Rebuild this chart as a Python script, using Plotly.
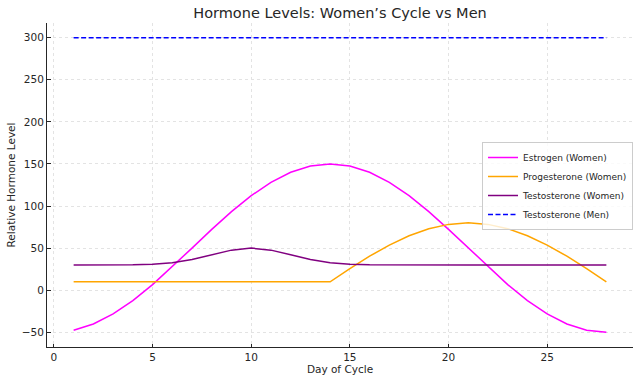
import plotly.graph_objects as go

days = list(range(1, 29))
estrogen = [-47.5, -40.1, -28.2, -12.3, 6.6, 27.7, 50.0, 72.3, 93.4, 112.3, 128.2, 140.1, 147.5, 150.0,
            147.5, 140.1, 128.2, 112.3, 93.4, 72.3, 50.0, 27.7, 6.6, -12.3, -28.2, -40.1, -47.5, -50.0]
progesterone = [10, 10, 10, 10, 10, 10, 10, 10, 10, 10, 10, 10, 10, 10,
                25.6, 40.4, 53.6, 64.7, 73.1, 78.2, 80.0, 78.2, 73.1, 64.7, 53.6, 40.4, 25.6, 10.0]
testosterone_women = [30.0, 30.0, 30.0, 30.2, 30.9, 32.7, 36.5, 42.1, 47.6, 50.0, 47.6, 42.1, 36.5, 32.7,
                      30.9, 30.2, 30.0, 30.0, 30.0, 30.0, 30.0, 30.0, 30.0, 30.0, 30.0, 30.0, 30.0, 30.0]
testosterone_men = [300] * 28

x_ticks = [0, 5, 10, 15, 20, 25]
y_ticks = [-50, 0, 50, 100, 150, 200, 250, 300]

FONT = "DejaVu Sans"

fig = go.Figure()
fig.add_trace(go.Scatter(x=days, y=estrogen, mode="lines", name="Estrogen (Women)",
                         line=dict(color="#ff00ff", width=1.5)))
fig.add_trace(go.Scatter(x=days, y=progesterone, mode="lines", name="Progesterone (Women)",
                         line=dict(color="#ffa500", width=1.5)))
fig.add_trace(go.Scatter(x=days, y=testosterone_women, mode="lines", name="Testosterone (Women)",
                         line=dict(color="#800080", width=1.5)))
fig.add_trace(go.Scatter(x=days, y=testosterone_men, mode="lines", name="Testosterone (Men)",
                         line=dict(color="#0000ff", width=1.5, dash="5px,2.5px")))

axis_common = dict(
    showline=True, linecolor="#262626", linewidth=1,
    ticks="inside", ticklen=3.5, tickwidth=1, tickcolor="#262626",
    showgrid=True, gridcolor="#e3e3e3", gridwidth=0.8, griddash="dot",
    zeroline=False, mirror=False, automargin=False,
    tickfont=dict(family=FONT, size=10.5, color="#262626"),
)

fig.update_layout(
    width=640, height=382,
    margin=dict(l=47, r=7, t=23, b=35),
    paper_bgcolor="white", plot_bgcolor="white",
    font=dict(family=FONT, color="#262626"),
    title=dict(text="Hormone Levels: Women\u2019s Cycle vs Men", x=(47 + 633) / 2 / 640, xanchor="center",
               y=1 - 13 / 382, yanchor="middle", font=dict(family=FONT, size=14.5, color="#262626")),
    xaxis=dict(range=[-0.35, 29.35], tickvals=x_ticks,
               title=dict(text="Day of Cycle", font=dict(family=FONT, size=10.5), standoff=3),
               **axis_common),
    yaxis=dict(range=[-67.5, 317.5], tickvals=y_ticks,
               title=dict(text="Relative Hormone Level", font=dict(family=FONT, size=10.5), standoff=4),
               **axis_common),
    legend=dict(x=(482 - 47) / 586, y=(347 - 142) / 324, xanchor="left", yanchor="top",
                bgcolor="rgba(255,255,255,0.8)", bordercolor="#cccccc", borderwidth=1,
                font=dict(family=FONT, size=9, color="#262626"), itemwidth=30,
                tracegroupgap=0),
    showlegend=True,
)

fig.write_html("out.html", config={"displayModeBar": False},
               post_script="document.body.style.margin='0';document.body.style.overflow='hidden';")
